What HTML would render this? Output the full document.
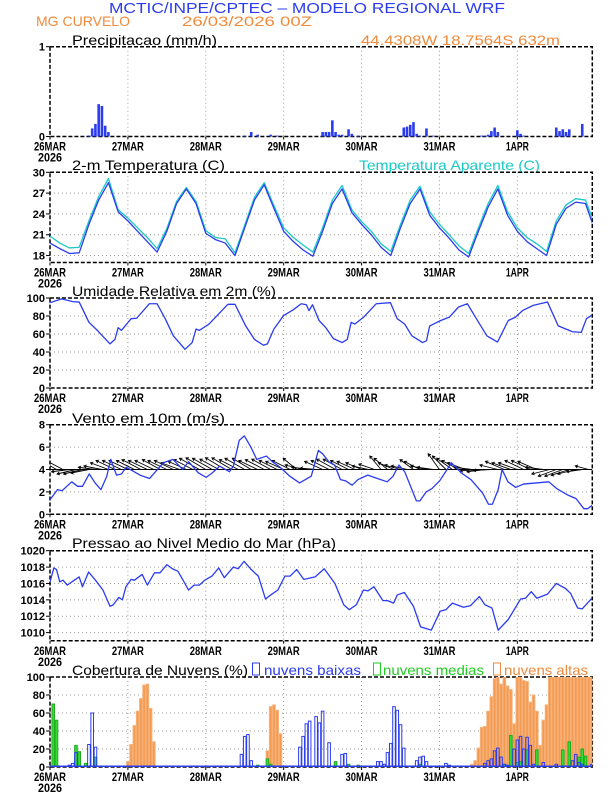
<!DOCTYPE html>
<html><head><meta charset="utf-8"><style>
html,body{margin:0;padding:0;background:#fff;}
svg{display:block;font-family:"Liberation Sans",sans-serif;}
</style></head><body>
<svg id="chart" width="612" height="792" viewBox="0 0 612 792" xmlns="http://www.w3.org/2000/svg">
<rect x="0" y="0" width="612" height="792" fill="#fff"/>
<text x="109" y="13" font-size="15" fill="#2b3cf0" textLength="396" lengthAdjust="spacingAndGlyphs">MCTIC/INPE/CPTEC – MODELO REGIONAL WRF</text>
<text x="36" y="26" font-size="14" fill="#f08a3c" textLength="94" lengthAdjust="spacingAndGlyphs">MG CURVELO</text>
<text x="182" y="26" font-size="14" fill="#f08a3c" textLength="130" lengthAdjust="spacingAndGlyphs">26/03/2026 00Z</text>
<text x="361" y="45" font-size="14" fill="#f08a3c" textLength="199" lengthAdjust="spacingAndGlyphs">44.4308W 18.7564S 632m</text>
<text x="72" y="45" font-size="14" fill="#000" textLength="145" lengthAdjust="spacingAndGlyphs">Precipitacao (mm/h)</text>
<text x="72" y="170" font-size="14" fill="#000" textLength="153" lengthAdjust="spacingAndGlyphs">2-m Temperatura (C)</text>
<text x="359" y="170" font-size="14" fill="#19c8c8" textLength="181" lengthAdjust="spacingAndGlyphs">Temperatura Aparente (C)</text>
<text x="72" y="296" font-size="14" fill="#000" textLength="204" lengthAdjust="spacingAndGlyphs">Umidade Relativa em 2m (%)</text>
<text x="72" y="423" font-size="14" fill="#000" textLength="153" lengthAdjust="spacingAndGlyphs">Vento em 10m (m/s)</text>
<text x="72" y="548" font-size="14" fill="#000" textLength="264" lengthAdjust="spacingAndGlyphs">Pressao ao Nivel Medio do Mar (hPa)</text>
<text x="72" y="675" font-size="14" fill="#000" textLength="176" lengthAdjust="spacingAndGlyphs">Cobertura de Nuvens (%)</text>
<rect x="252.5" y="663" width="7" height="12" fill="none" stroke="#2b3cf0" stroke-width="1"/>
<text x="264" y="675" font-size="14" fill="#2b3cf0" textLength="97" lengthAdjust="spacingAndGlyphs">nuvens baixas</text>
<rect x="373.5" y="663" width="7" height="12" fill="none" stroke="#22cc22" stroke-width="1"/>
<text x="383" y="675" font-size="14" fill="#22cc22" textLength="101" lengthAdjust="spacingAndGlyphs">nuvens medias</text>
<rect x="493.5" y="663" width="7" height="12" fill="none" stroke="#f08a3c" stroke-width="1"/>
<text x="504" y="675" font-size="14" fill="#f08a3c" textLength="84" lengthAdjust="spacingAndGlyphs">nuvens altas</text>
<g id="layer"></g>
</svg>
<script>
// ---- data ----
const dayLabels = ["26MAR","27MAR","28MAR","29MAR","30MAR","31MAR","1APR"];
const precipHours = [12,13,14,15,16,17,18,60,62,64,68,70,84,85,86,87,88,89,90,92,93,95,109,110,111,112,113,114,116,118,133,134,135,136,137,138,144,145,146,156,157,158,159,160,164];
const precipVals = [0.01,0.09,0.14,0.36,0.34,0.12,0.05,0.01,0.05,0.02,0.02,0.01,0.05,0.05,0.05,0.18,0.05,0.02,0.02,0.08,0.03,0.01,0.10,0.11,0.13,0.16,0.03,0.01,0.09,0.01,0.01,0.01,0.02,0.06,0.10,0.05,0.07,0.03,0.01,0.10,0.06,0.08,0.05,0.08,0.14];
const tempHours = [0,3,6,9,12,15,18,21,24,27,30,33,36,39,42,45,48,51,54,57,60,63,66,69,72,75,78,81,84,87,90,93,96,99,102,105,108,111,114,117,120,123,126,129,132,135,138,141,144,147,150,153,156,159,162,165,168];
const temp2m = [19.8,19.0,18.3,18.4,22.5,26.0,28.5,24.3,23.0,21.5,20.0,18.5,21.5,25.5,27.6,25.5,21.2,20.3,19.8,18.0,22.0,26.0,28.2,24.8,21.5,20.0,18.8,17.9,21.5,25.5,27.6,24.2,22.5,21.0,19.2,18.0,22.0,25.5,27.6,23.8,22.0,20.5,18.8,17.8,21.5,25.0,27.6,23.8,21.5,20.0,19.0,18.0,22.5,24.8,25.7,25.5,21.5];
const tempApparent = [20.8,19.8,19.1,19.2,23.0,26.5,29.1,24.6,23.4,22.0,20.6,19.0,21.9,25.8,27.8,25.8,21.6,20.6,20.4,18.4,22.4,26.4,28.5,25.2,22.0,20.6,19.5,18.5,22.0,26.0,28.1,24.6,22.9,21.5,19.7,18.6,22.5,26.0,28.0,24.3,22.5,21.0,19.4,18.3,22.0,25.5,28.1,24.3,22.0,20.6,19.7,18.6,23.0,25.3,26.2,26.0,22.3];
const rhHours = [0,3.6,7,9,12,14.6,18.5,20,21,22,25,26.7,30.6,33,35.5,38,41.6,43.8,45,46,49,54.8,57,60.3,63,65.8,67,69,72,75,77.4,79,79.8,80.9,82.9,85,87.3,90,91.6,92.8,93.9,96.6,100.5,104.9,107,109.3,111.5,114.8,116,117,120.4,123,125.9,128.6,130.8,134.6,137.9,141.2,143.4,145.6,148.9,153.3,156.6,161,163.7,165.3,167];
const rhVals = [94.8,99,96,95.5,73,64,49,54,67,64,77,77.5,93.6,93.6,77,58,43,50.5,65.5,64,71,93,93,69,54,47.5,49,65.5,80.5,87,93.6,92.5,86,92.5,75,67,55,50.5,54,73,71,78.6,93.6,94.8,77,71,58,50.5,52.4,69,75,78.6,90,93.6,80.5,58,51,75,78.6,86,91.8,95.5,69,62.5,61.8,77,81];
const windHours = [0,2.3,3.7,6.7,8.5,10,12.1,13.9,15.7,17.5,18.7,20.5,22,23.5,25.3,27.7,30.7,34.9,37.9,40.9,42.7,45.7,48.1,50,52.3,55.3,56.5,58.3,59.9,61.9,63.7,66.7,68.5,70.9,73.9,76.9,79.3,80.5,82.7,84,85.9,87.7,89.5,91,93.1,94.9,97.9,100.9,103.9,105.7,107.5,109.3,111.1,112.9,114,115.9,117.7,120.1,123.7,126.7,129.7,133.3,135.1,136.3,138.1,139.3,141.1,143.5,145.9,153.7,156.1,159.7,162.1,164.5,165.7,167];
const windSpeed = [1.3,2.2,2.1,2.9,2.5,2.5,3.6,2.8,2.2,3.4,4.9,3.5,3.6,4.2,3.9,3.5,3.2,4.6,4.9,4.0,4.7,3.7,3.3,3.7,4.3,3.8,4.3,6.6,7.0,6.0,4.9,5.2,4.7,4.2,3.4,2.8,3.2,3.4,5.7,5.4,4.7,4.4,3.1,3.0,2.6,3.1,3.5,3.2,2.9,3.4,4.4,3.8,2.5,1.2,1.2,2.0,2.3,3.0,4.6,3.7,3.1,1.9,0.9,0.9,2.2,4.0,2.9,2.4,2.7,2.9,2.3,1.7,1.4,0.5,0.5,0.8];
const arrowHours = [0,2,4,6,8,10,12,14,16,18,20,22,24,26,28,30,32,34,36,38,40,42,44,46,48,50,52,54,56,58,60,62,64,66,68,70,72,74,76,78,80,82,84,86,88,90,92,94,96,98,100,102,104,106,108,110,112,114,116,118,120,122,124,126,128,130,132,134,136,138,140,142,144,146,148,150,152,154,156,158,160,162,164,166];
const windU = [-3.5,-3.5,-3.8,-4.0,-4.2,-4.2,-4.0,-3.8,-4.0,-4.0,-4.2,-4.2,-4.2,-4.0,-4.2,-4.2,-4.2,-4.0,-4.2,-4.2,-4.2,-4.0,-4.2,-4.4,-4.4,-4.4,-4.2,-4.4,-4.4,-4.2,-4.4,-4.2,-4.2,-4.2,-4.2,-4.0,-4.0,-4.0,-3.0,-4.0,-4.0,-3.5,-4.0,-4.0,-4.2,-4.2,-4.0,-4.0,-3.5,-3.5,-3.5,-2.5,-3.0,-3.5,-3.5,-3.5,-3.0,-3.5,-3.5,-3.5,-2.5,-3.0,-3.5,-3.8,-4.0,-4.0,-4.0,-4.0,-4.0,-4.0,-4.2,-4.2,-4.2,-4.2,-4.2,-4.2,-4.0,-4.0,-4.0,-4.0,-4.0,-4.0,-3.5,-3.0];
const windV = [1.5,2.0,2.0,-0.5,-1.0,-1.0,-0.8,0.5,0.8,1.5,2.0,2.0,2.0,2.0,2.2,2.0,2.0,2.2,2.0,2.0,1.5,1.8,2.2,2.5,2.6,2.5,2.3,2.6,2.6,2.2,2.5,2.5,2.0,2.2,2.3,2.0,1.8,2.0,2.5,1.0,0.5,0.3,1.8,2.0,2.3,2.3,2.0,1.8,1.5,0.8,1.2,3.0,2.5,1.5,1.0,0.8,2.2,1.8,0.8,0.5,3.5,3.0,2.5,2.0,1.5,0.5,-0.3,-0.5,-0.2,1.0,1.8,1.5,1.5,2.0,2.0,1.8,0.5,-1.0,-1.5,-1.5,-1.3,-1.0,-0.5,0.8];
const presHours = [0,1.2,2,3,4,5.3,7.5,9,10,11.9,14,16.3,18.5,19.5,21.2,22.3,23.4,25,26,28.4,30,32.2,33.9,36,37.7,39.4,41,42.7,44.4,46,47.7,49.9,52,53.7,56.5,58,59.8,62,64.2,66.4,68,70.2,72.4,74,76,78.2,81.7,84.5,87.8,90.5,92.2,94.4,96.6,98,99.8,102.6,104,105.9,107,109.2,112,114.2,117.5,120.2,122,124,127.4,129.6,132.3,134,136.2,138.1,141.2,145,146.5,148.3,150,153.3,156,158.8,160.4,162.6,164,167];
const presVals = [1016.2,1017.9,1017.7,1016.2,1016.4,1015.8,1016.4,1016.8,1015.6,1017.4,1016.4,1015.2,1013.2,1013.4,1014.3,1014.0,1015.6,1016.5,1016.4,1017.1,1015.8,1017.3,1017.3,1018.3,1017.8,1017.5,1016.4,1015.2,1015.8,1015.8,1016.4,1016.9,1017.9,1016.7,1018.0,1017.8,1018.7,1017.7,1016.9,1014.1,1014.6,1015.2,1016.9,1016.9,1017.7,1016.5,1016.8,1017.8,1016.0,1013.4,1012.8,1013.4,1015.2,1015.1,1015.6,1013.9,1013.9,1013.6,1014.6,1014.9,1013.2,1010.7,1010.3,1012.6,1012.8,1013.6,1013.1,1013.3,1014.4,1013.4,1013.0,1010.3,1011.6,1014.1,1014.2,1015.0,1014.2,1014.7,1016.0,1015.4,1014.8,1013.0,1012.9,1014.2];
const highHours = [24,25,26,27,28,29,30,31,32,67,68,69,70,71,130,131,132,133,134,135,136,137,138,139,140,141,142,143,144,145,146,147,148,149,150,151,152,153,154,155,156,157,158,159,160,161,162,163,164,165,166,167];
const highVals = [6,25,46,62,76,91,92,65,28,18,67,69,63,37,3,7,21,44,45,62,78,98,100,92,100,90,86,48,100,100,96,95,72,80,62,24,52,69,100,100,100,100,100,100,100,100,100,100,100,100,100,100];
const midHours = [1,2,8,9,11,14,64,67,68,88,92,95,114,140,142,144,145,147,150,158,160,163,164,165];
const midVals = [70,52,24,17,4,11,2,9,3,6,3,2,3,3,35,5,6,19,19,19,28,11,20,12];
const lowHours = [2,6,7,8,12,13,14,59,60,61,62,77,78,79,80,82,83,84,86,90,91,101,102,103,104,105,106,107,108,109,113,114,115,116,122,123,134,135,136,137,138,139,140,141,143,144,145,146,147,148,149,152,156,157,161,162,163,164,167];
const lowVals = [1,2,4,16,25,60,22,14,34,36,7,22,34,48,51,56,49,62,27,14,15,6,6,3,16,26,67,63,47,21,7,11,12,6,4,2,4,7,9,18,21,11,3,2,20,30,34,20,33,24,3,5,3,1,7,14,5,3,3];
const precipTicks = [0,1];
const tempTicks = [18,21,24,27,30];
const rhTicks = [0,20,40,60,80,100];
const windTicks = [0,2,4,6,8];
const presTicks = [1010,1012,1014,1016,1018,1020];
const cloudTicks = [0,20,40,60,80,100];

// ---- drawing ----
const NS="http://www.w3.org/2000/svg";
const layer=document.getElementById('layer');
const X0=50, X1=592.3, HMAX=167.1;
function xh(h){return X0+h*(X1-X0)/HMAX;}
function mk(tag,attrs,parent){const e=document.createElementNS(NS,tag);for(const k in attrs)e.setAttribute(k,attrs[k]);(parent||layer).appendChild(e);return e;}
const P={
 precip:{top:46.7,bot:136.5,min:0,max:1,ticks:precipTicks},
 temp:{top:172.3,bot:262.5,min:17,max:30,ticks:tempTicks},
 rh:{top:298,bot:388,min:0,max:100,ticks:rhTicks},
 wind:{top:424.7,bot:514.3,min:0,max:8,ticks:windTicks},
 pres:{top:550.7,bot:640.8,min:1009,max:1020,ticks:presTicks},
 cloud:{top:677,bot:767,min:0,max:100,ticks:cloudTicks}
};
function yv(p,v){return p.bot-(v-p.min)/(p.max-p.min)*(p.bot-p.top);}
let clipN=0;
function panel(name,p){
  const g=mk('g',{});
  
  
  for(let d=1;d<7;d++){
    const l=mk('line',{x1:xh(24*d),x2:xh(24*d),y1:p.top,y2:p.bot,stroke:'#9a9a9a','stroke-width':1,'stroke-dasharray':'1,3'},g);
    
    
  }
  p.ticks.forEach(t=>{
    const y=yv(p,t);
    if(t!==p.min&&t!==p.max&&y>p.top+1&&y<p.bot-1){
      const l=mk('line',{x1:X0,x2:X1,y1:y,y2:y,stroke:'#9a9a9a','stroke-width':1,'stroke-dasharray':'1,3'},g);
      
      
    }
    mk('line',{x1:X0-4,x2:X0,y1:y,y2:y,stroke:'#000','stroke-width':1},g);
    const tx=mk('text',{x:X0-5,y:y+4,'font-size':11,'font-weight':'bold','text-anchor':'end',fill:'#000'},g);
    tx.textContent=t;
    
    
  });
  const b=mk('rect',{x:X0,y:p.top,width:X1-X0,height:p.bot-p.top,fill:'none',stroke:'#000','stroke-width':1.5,'stroke-dasharray':'4,2'},g);
  
  
  dayLabels.forEach((s,d)=>{
    const x=xh(24*d);
    mk('line',{x1:x,x2:x,y1:p.bot,y2:p.bot+3,stroke:'#000','stroke-width':1},g);
    const w=s.length===4?23:32;
    const tx=mk('text',{x:x,y:p.bot+14,'font-size':12,'font-weight':'bold','text-anchor':'middle',fill:'#000',textLength:w,lengthAdjust:'spacingAndGlyphs'},g);
    tx.textContent=s;
    
    
  });
  const yr=mk('text',{x:X0,y:p.bot+25,'font-size':12,'font-weight':'bold','text-anchor':'middle',fill:'#000',textLength:24,lengthAdjust:'spacingAndGlyphs'},g);
  yr.textContent='2026';
  
  
  const id='clip'+(clipN++);
  const cp=mk('clipPath',{id:id},g);
  mk('rect',{x:X0,y:p.top,width:X1-X0,height:p.bot-p.top},cp);
  const inner=mk('g',{'clip-path':'url(#'+id+')'},g);
  return inner;
}
function line(g,p,hs,vs,color,name){
  const d=hs.map((h,i)=>(i?'L':'M')+xh(h).toFixed(2)+','+yv(p,vs[i]).toFixed(2)).join('');
  const e=mk('path',{d:d,fill:'none',stroke:color,'stroke-width':1.3,'stroke-linejoin':'round'},g);
  
  
}
function bars(g,p,hs,vs,fill,stroke,name){
  hs.forEach((h,i)=>{
    const y=yv(p,vs[i]);
    const r=mk('rect',{x:xh(h)-1.3,y:y,width:2.6,height:Math.max(0,p.bot-y),fill:fill,stroke:stroke,'stroke-width':stroke==='none'?0:1});
    g.appendChild(r);
    
    
  });
}
// precipitation
let g=panel('precip',P.precip);
bars(g,P.precip,precipHours,precipVals,'#2b3cf0','none','precip-bar');
// temperature
g=panel('temp',P.temp);
line(g,P.temp,tempHours,tempApparent,'#19c8c8','apparent-temp-line');
line(g,P.temp,tempHours,temp2m,'#2b3cf0','temp-2m-line');
// humidity
g=panel('rh',P.rh);
line(g,P.rh,rhHours,rhVals,'#2b3cf0','rh-line');
// wind
g=panel('wind',P.wind);
const base=yv(P.wind,4), S=4.5;
const ag=mk('g',{stroke:'#000','stroke-width':0.9,fill:'none'},g);


mk('line',{x1:X0,x2:X1,y1:base,y2:base,stroke:'#000','stroke-width':1},ag);
arrowHours.forEach((h,i)=>{
  const x0=xh(h), x1=x0+windU[i]*S, y1=base-windV[i]*S;
  const ang=Math.atan2(y1-base,x1-x0);
  const hl=3;
  const a1=ang+2.6, a2=ang-2.6;
  const d='M'+x0+','+base+'L'+x1+','+y1+'M'+(x1+hl*Math.cos(a1))+','+(y1+hl*Math.sin(a1))+'L'+x1+','+y1+'L'+(x1+hl*Math.cos(a2))+','+(y1+hl*Math.sin(a2));
  const e=mk('path',{d:d},ag);
  
  
});
line(g,P.wind,windHours,windSpeed,'#2b3cf0','wind-speed-line');
// pressure
g=panel('pres',P.pres);
line(g,P.pres,presHours,presVals,'#2b3cf0','pressure-line');
// clouds
g=panel('cloud',P.cloud);
bars(g,P.cloud,highHours,highVals,'#f39a50','#f7b27a','high-cloud-bar');
bars(g,P.cloud,midHours,midVals,'#33dd33','#22aa22','mid-cloud-bar');
bars(g,P.cloud,lowHours,lowVals,'none','#2b3cf0','low-cloud-bar');
const zl=mk('line',{x1:X0,x2:X1,y1:P.cloud.bot-0.7,y2:P.cloud.bot-0.7,stroke:'#2b3cf0','stroke-width':1.5},g);


</script>
</body></html>
